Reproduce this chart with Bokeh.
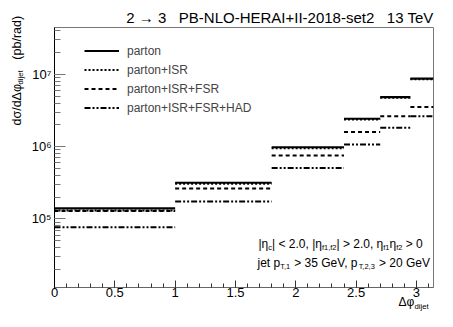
import math
from bokeh.plotting import figure
from bokeh.models import (ColumnDataSource, Label, Legend, LegendItem, LogTicker, Title,
                          SingleIntervalTicker, CustomJSTickFormatter)
from bokeh.embed import file_html
from bokeh.resources import INLINE

# ---- data ----
bin_edges = [0.0, 1.0, 1.8, 2.4, 2.7, 2.95, 3.1416]
series_names = ["parton", "parton+ISR", "parton+ISR+FSR", "parton+ISR+FSR+HAD"]
parton = [1.40e5, 3.17e5, 9.8e5, 2.43e6, 4.84e6, 8.69e6]
parton_isr = [1.31e5, 3.07e5, 9.5e5, 2.38e6, 4.77e6, 8.55e6]
parton_isr_fsr = [1.29e5, 2.64e5, 7.55e5, 1.59e6, 2.62e6, 3.52e6]
parton_isr_fsr_had = [7.7e4, 1.75e5, 5.05e5, 1.07e6, 1.82e6, 2.62e6]
x_range = (0.0, 3.1416)
y_range = (1.13e4, 4.43e7)
title_text = "2 \u2192 3\u00a0\u00a0\u00a0PB-NLO-HERAI+II-2018-set2\u00a0\u00a0\u00a013 TeV"

FONT = "Liberation Sans"
# frame box in canvas pixels (layout)
FL, FR, FT, FB = 54, 433, 27, 287

p = figure(width=437, height=311, x_range=x_range, y_range=y_range,
           y_axis_type="log", output_backend="svg", toolbar_location=None,
           title=title_text, min_border_left=FL, min_border_right=437 - FR,
           min_border_top=FT, min_border_bottom=311 - FB)
p.title.align = "right"
p.title.text_font = FONT
p.title.text_font_size = "15px"
p.title.text_font_style = "normal"
p.title.standoff = 3
p.title.text_color = "black"

p.xgrid.visible = False
p.ygrid.visible = False
p.outline_line_color = "#777777"
p.background_fill_color = "white"
p.border_fill_color = "white"

# axes
p.xaxis.ticker = SingleIntervalTicker(interval=0.5, num_minor_ticks=5)
p.xaxis.formatter = CustomJSTickFormatter(code="return String(Math.round(tick*10)/10);")
p.xaxis.major_tick_in = 7
p.xaxis.major_tick_out = 0
p.xaxis.minor_tick_in = 4
p.xaxis.minor_tick_out = 0
p.xaxis.axis_line_color = "#666666"
p.xaxis.major_tick_line_color = "#333333"
p.xaxis.minor_tick_line_color = "#333333"
p.xaxis.major_label_standoff = 0
p.xaxis.major_label_text_font = FONT
p.xaxis.major_label_text_font_size = "13px"
p.xaxis.major_label_text_color = "black"

p.yaxis.ticker = LogTicker(num_minor_ticks=10)
p.yaxis.formatter = CustomJSTickFormatter(code="""
const e = Math.round(Math.log10(tick));
const s = {"0":"\u2070","1":"\u00b9","2":"\u00b2","3":"\u00b3","4":"\u2074","5":"\u2075","6":"\u2076","7":"\u2077","8":"\u2078","9":"\u2079","-":"\u207b"};
return "10" + String(e).split("").map(c => s[c]).join("");
""")
p.yaxis.major_tick_in = 11
p.yaxis.major_tick_out = 0
p.yaxis.minor_tick_in = 6
p.yaxis.minor_tick_out = 0
p.yaxis.axis_line_color = "black"
p.yaxis.major_tick_line_color = "#777777"
p.yaxis.minor_tick_line_color = "#777777"
p.yaxis.major_label_standoff = 3
p.yaxis.major_label_text_font = FONT
p.yaxis.major_label_text_font_size = "13px"
p.yaxis.major_label_text_color = "black"

# histograms (horizontal steps only)
styles = [("solid", 2.2), ("2 2", 2.2), ("4 3", 2.0), ("6 2 2 2 2 2", 2.0)]
all_series = [parton, parton_isr, parton_isr_fsr, parton_isr_fsr_had]
renderers = []
for vals, (dash, lw) in zip(all_series, styles):
    src = ColumnDataSource(dict(x0=bin_edges[:-1], x1=bin_edges[1:], y=vals))
    r = p.segment(x0="x0", y0="y", x1="x1", y1="y", source=src,
                  line_color="black", line_width=lw, line_dash=dash)
    renderers.append(r)

legend = Legend(items=[LegendItem(label=n, renderers=[r]) for n, r in zip(series_names, renderers)],
                location=(30, 171), orientation="vertical", glyph_width=35,
                glyph_height=17, label_height=17, spacing=2, padding=0, margin=0,
                label_standoff=8, border_line_color=None, background_fill_alpha=0,
                label_text_font=FONT, label_text_font_size="12px",
                label_text_baseline="middle")
p.add_layout(legend)


# ---- text helpers ----
def dx(px):
    return x_range[0] + (px - FL) / (FR - FL) * (x_range[1] - x_range[0])


def dy(py):
    l0, l1 = math.log10(y_range[0]), math.log10(y_range[1])
    return 10 ** (l1 - (py - FT) / (FB - FT) * (l1 - l0))


W = {' ': 278, '.': 278, ',': 278, '<': 584, '>': 584, '|': 260, '+': 584, '-': 333,
     '/': 278, '(': 333, ')': 333, 'G': 778, 'V': 667, 'T': 611, 'e': 556, 'j': 222,
     't': 278, 'p': 556, 'f': 278, 'c': 500, 'i': 222, 'd': 556, 'r': 333, 'a': 556,
     'b': 556, '\u03b7': 556, '\u03c3': 600, '\u0394': 668, '\u03c6': 650}


def tw(s, size):
    return sum(W.get(c, 556) for c in s) * size / 1000.0


def run(pieces, x, y, size):
    """pieces inside the frame: (text, is_subscript); x,y: baseline start, frame screen units."""
    pos = 0.0
    for txt, sub in pieces:
        fs = size * 0.62 if sub else size
        off = size * 0.3 if sub else 0.0
        lead = len(txt) - len(txt.lstrip())
        shown = txt.strip()
        start = pos + tw(" " * lead, fs)
        p.add_layout(Label(x=x + start, y=y - off, x_units="screen", y_units="screen",
                           text=shown, text_font=FONT, text_font_size=f"{fs:.2f}px",
                           text_baseline="alphabetic", text_align="left",
                           text_color="black"))
        pos += tw(txt, fs)


# y axis title (side panel, so it is not clipped to the frame)
p.add_layout(Label(x=dx(16), y=dy(125), text="d\u03c3/d\u0394\u03c6" + "\u00a0" * 7 + "(pb/rad)",
                   angle=math.pi / 2, text_font=FONT, text_font_size="12.5px",
                   text_baseline="alphabetic", text_align="left", text_color="black"), "left")
p.add_layout(Label(x=dx(19.5), y=dy(84), text="dijet",
                   angle=math.pi / 2, text_font=FONT, text_font_size="7.75px",
                   text_baseline="alphabetic", text_align="left", text_color="black"), "left")

# x axis title
p.add_layout(Title(text="\u0394\u03c6", align="left", offset=398 - FL, standoff=-10,
                   vertical_align="top", text_font=FONT, text_font_size="12px",
                   text_font_style="normal", text_color="black"), "below")
p.add_layout(Title(text="dijet", align="left", offset=414 - FL, standoff=-8,
                   vertical_align="top", text_font=FONT, text_font_size="7.75px",
                   text_font_style="normal", text_color="black"), "below")

# cut annotations
run([("|\u03b7", False), ("c", True), ("| < 2.0, |\u03b7", False), ("f1,f2", True),
     ("| > 2.0, \u03b7", False), ("f1", True), ("\u03b7", False), ("f2", True), (" > 0", False)],
    204, 44, 12)
run([("jet p", False), ("T,1", True), (" > 35 GeV, p", False), ("T,2,3", True),
     (" > 20 GeV", False)], 203, 25, 12)

open("out.html", "w").write(file_html(p, INLINE))
